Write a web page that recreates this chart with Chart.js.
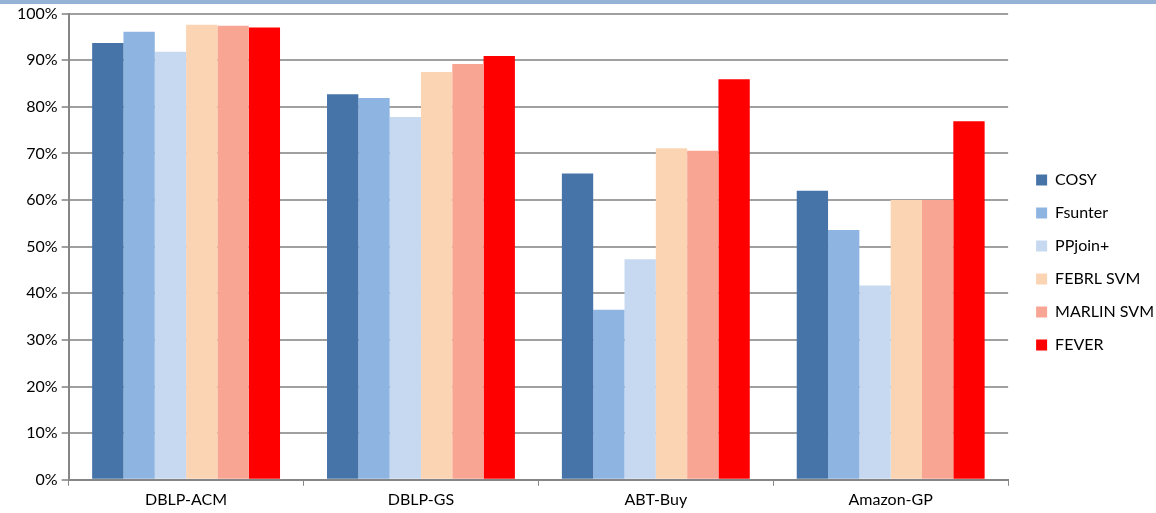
<!DOCTYPE html>
<html>
<head>
<meta charset="utf-8">
<script src="https://cdn.jsdelivr.net/npm/chart.js@4/dist/chart.umd.min.js"></script>
<style>
  html, body { margin: 0; padding: 0; background: #fff; }
  #band { position: absolute; left: 0; top: 0; width: 1156px; height: 4px; background: #95b3d7; }
  #wrap { position: absolute; left: 0; top: 0; width: 1156px; height: 513px; }
</style>
</head>
<body>
<div id="wrap"><canvas id="chart"></canvas></div>
<div id="band"></div>
<script>
var categories = ['DBLP-ACM', 'DBLP-GS', 'ABT-Buy', 'Amazon-GP'];
var seriesNames = ['COSY', 'Fsunter', 'PPjoin+', 'FEBRL SVM', 'MARLIN SVM', 'FEVER'];
var cosy = [93.7, 82.7, 65.7, 62.0];
var fsunter = [96.1, 81.9, 36.5, 53.6];
var ppjoin = [91.8, 77.8, 47.3, 41.7];
var febrl = [97.6, 87.5, 71.1, 60.0];
var marlin = [97.4, 89.2, 70.6, 60.0];
var fever = [97.0, 90.9, 85.9, 76.9];
var colors = ['#4674a8', '#8eb4e2', '#c6d9f0', '#fbd4b4', '#f8a594', '#ff0000'];

(function() {
    "use strict";

    var values = [cosy, fsunter, ppjoin, febrl, marlin, fever];
    var datasets = [];
    for (var i = 0; i < seriesNames.length; ++i) {
        datasets.push({
            label: seriesNames[i],
            data: values[i],
            backgroundColor: colors[i],
            borderWidth: 0,
            categoryPercentage: 0.8,
            barPercentage: 1.0
        });
    }

    var family = 'Lato, "Liberation Sans", sans-serif';
    var font = { family: family, size: 16 };

    // nudge the legend to the right, like the original layout
    var legendShift = {
        id: 'legendShift',
        afterLayout: function(chart) {
            var lg = chart.legend;
            lg.left += 11;
            lg.right += 11;
            if (lg.legendHitBoxes) {
                lg.legendHitBoxes.forEach(function(b) { b.left += 11; });
            }
        }
    };

    new Chart(document.getElementById('chart'), {
        type: 'bar',
        data: { labels: categories, datasets: datasets },
        plugins: [legendShift],
        options: {
            responsive: true,
            maintainAspectRatio: false,
            animation: false,
            layout: { padding: { top: 12, left: 13, right: 3, bottom: 0 } },
            plugins: {
                tooltip: { enabled: false },
                legend: {
                    position: 'right',
                    labels: {
                        color: '#000',
                        font: { family: family, size: 16 },
                        boxWidth: 11,
                        boxHeight: 11,
                        padding: 17
                    }
                }
            },
            scales: {
                x: {
                    grid: {
                        offset: true,
                        drawOnChartArea: false,
                        color: '#868686',
                        tickLength: 6
                    },
                    border: { color: '#868686', width: 2 },
                    ticks: { color: '#000', font: font, padding: 4 }
                },
                y: {
                    min: 0,
                    max: 100,
                    grid: { color: '#a0a0a0', lineWidth: 2, tickLength: 7 },
                    border: { color: '#868686', width: 2 },
                    ticks: {
                        stepSize: 10,
                        color: '#000',
                        font: font,
                        padding: 4,
                        callback: function(v) { return v + '%'; }
                    }
                }
            }
        }
    });
}());
</script>
</body>
</html>
